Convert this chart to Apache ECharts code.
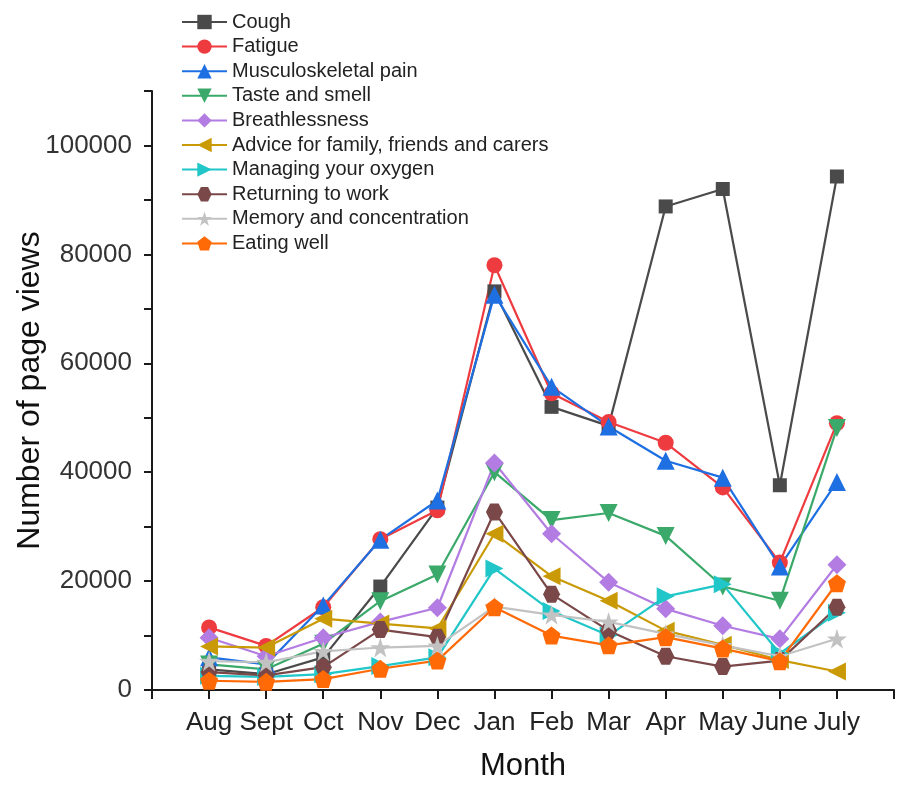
<!DOCTYPE html>
<html>
<head>
<meta charset="utf-8">
<title>Number of page views by month</title>
<script src="https://cdn.jsdelivr.net/npm/echarts@6/dist/echarts.min.js"></script>
<style>
  html, body { margin: 0; padding: 0; background: #ffffff; }
  #chart { width: 897px; height: 787px; }
</style>
</head>
<body>
<div id="chart"></div>
<script>
// Months shown on the x axis (positions 1..12; 0 and 13 are empty padding ticks)
const months = ['Aug', 'Sept', 'Oct', 'Nov', 'Dec', 'Jan', 'Feb', 'Mar', 'Apr', 'May', 'June', 'July'];

// Page views per topic, one value per month
const cough       = [3800, 2900, 6000, 19000, 33500, 73200, 52000, 48500, 88800, 92000, 37600, 94300];
const fatigue     = [11500, 8100, 15200, 27700, 33000, 78000, 54500, 49200, 45400, 37200, 23400, 49000];
const musculo     = [6000, 4700, 15500, 27600, 34800, 72600, 55700, 48400, 42100, 39000, 22700, 38200];
const tasteSmell  = [4700, 3800, 8500, 16300, 21200, 40000, 31200, 32500, 28300, 19000, 16400, 48100];
const breathless  = [9600, 6200, 9600, 12500, 15100, 41700, 28700, 19800, 14900, 11800, 9400, 23000];
const advice      = [8000, 7800, 13100, 12200, 11300, 28700, 20900, 16400, 10900, 8300, 5500, 3400];
const oxygen      = [2600, 2400, 2900, 4400, 6000, 22300, 14500, 10000, 17200, 19400, 6700, 14200];
const returnWork  = [3300, 2700, 4200, 11100, 9700, 32700, 17600, 10900, 6200, 4300, 5400, 15200];
const memory      = [5300, 5100, 7100, 7800, 8100, 15300, 13800, 12500, 10300, 8200, 6200, 9400];
const eatingWell  = [1700, 1500, 2000, 3900, 5400, 15200, 10000, 8200, 9700, 7600, 5300, 19600];

// Y axis range and tick step; labels on every second tick
const yMin = 0, yMax = 110000, yStep = 10000, yLabelStep = 20000;

const pentagon = 'path://M50,0 L97.55,34.55 L79.39,90.45 L20.61,90.45 L2.45,34.55 Z';
const hexagon  = 'path://M25,0 L75,0 L100,43.3 L75,86.6 L25,86.6 L0,43.3 Z';
const star     = 'path://M50,0 L61.2,34.5 L97.6,34.5 L68.2,55.9 L79.4,90.5 L50,69.1 L20.6,90.5 L31.8,55.9 L2.4,34.5 L38.8,34.5 Z';

const seriesDefs = [
  { name: 'Cough', values: cough, color: '#4a4a4a', symbol: 'rect', size: 14, rotate: 0 },
  { name: 'Fatigue', values: fatigue, color: '#ee3b40', symbol: 'circle', size: 16, rotate: 0 },
  { name: 'Musculoskeletal pain', values: musculo, color: '#1e6fe2', symbol: 'triangle', size: 18, rotate: 0 },
  { name: 'Taste and smell', values: tasteSmell, color: '#3aa96a', symbol: 'triangle', size: 18, rotate: 180 },
  { name: 'Breathlessness', values: breathless, color: '#b27ce2', symbol: 'diamond', size: 19, rotate: 0 },
  { name: 'Advice for family, friends and carers', values: advice, color: '#c99a05', symbol: 'triangle', size: 18, rotate: 90 },
  { name: 'Managing your oxygen', values: oxygen, color: '#20c6c8', symbol: 'triangle', size: 18, rotate: -90 },
  { name: 'Returning to work', values: returnWork, color: '#7a4848', symbol: hexagon, size: 17, rotate: 0 },
  { name: 'Memory and concentration', values: memory, color: '#c2c2c2', symbol: star, size: 20, rotate: 0 },
  { name: 'Eating well', values: eatingWell, color: '#ff6a06', symbol: pentagon, size: 18, rotate: 0 }
];

const font = '"Liberation Sans", Arial, sans-serif';
const axisColor = '#1a1a1a';

const chart = echarts.init(document.getElementById('chart'), null, { renderer: 'canvas' });

chart.setOption({
  backgroundColor: '#ffffff',
  animation: false,
  textStyle: { fontFamily: font },
  legend: {
    orient: 'vertical',
    left: 176,
    top: 7,
    itemWidth: 45,
    itemHeight: 18,
    itemGap: 4.6,
    textStyle: { fontFamily: font, fontSize: 20, color: '#222222' },
    data: seriesDefs.map(d => d.name)
  },
  grid: { left: 152, top: 91, width: 754, height: 605 },
  xAxis: {
    type: 'value',
    min: 0,
    max: 13,
    interval: 1,
    name: 'Month',
    nameLocation: 'middle',
    nameGap: 61,
    nameMoveOverlap: false,
    nameTextStyle: { fontFamily: font, fontSize: 31, color: '#111111' },
    splitLine: { show: false },
    axisLine: { lineStyle: { color: axisColor, width: 2 } },
    axisTick: { length: 9, lineStyle: { color: axisColor, width: 2 } },
    axisLabel: {
      fontFamily: font, fontSize: 26, color: '#222222', margin: 20,
      showMinLabel: true, showMaxLabel: true,
      formatter: v => (v >= 1 && v <= months.length) ? months[v - 1] : ''
    }
  },
  yAxis: {
    type: 'value',
    min: yMin,
    max: yMax,
    interval: yStep,
    name: 'Number of page views',
    nameLocation: 'middle',
    nameGap: 106,
    nameMoveOverlap: false,
    nameTextStyle: { fontFamily: font, fontSize: 32, color: '#111111' },
    splitLine: { show: false },
    axisLine: { show: true, lineStyle: { color: axisColor, width: 2 } },
    axisTick: { show: true, length: 8, lineStyle: { color: axisColor, width: 2 } },
    axisLabel: {
      fontFamily: font, fontSize: 26, color: '#333333', margin: 20,
      showMaxLabel: true,
      formatter: v => (v % yLabelStep === 0) ? String(v) : ''
    }
  },
  series: seriesDefs.map(d => ({
    name: d.name,
    type: 'line',
    data: d.values.map((v, i) => [i + 1, v]),
    symbol: d.symbol,
    symbolSize: d.size,
    symbolRotate: d.rotate,
    showAllSymbol: true,
    color: d.color,
    lineStyle: { color: d.color, width: 2.2 },
    itemStyle: { color: d.color, borderWidth: 0 },
    emphasis: { disabled: true }
  }))
});
</script>
</body>
</html>
